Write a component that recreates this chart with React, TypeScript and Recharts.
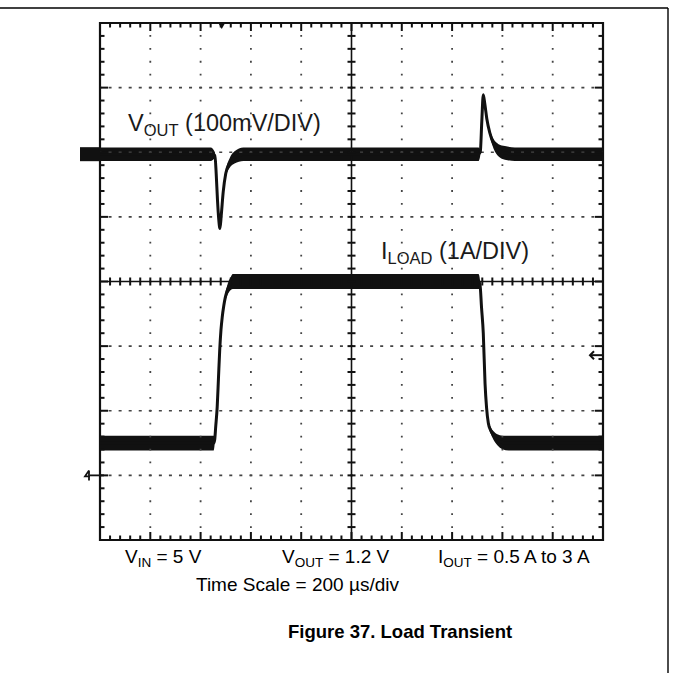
import { ComposedChart, Area, Line, Scatter, XAxis, YAxis, ReferenceLine, ReferenceArea } from "recharts";

// Oscilloscope: 200 µs/div, 10 x 8 divisions
const T_DIV = 200;
const N_X = 10;
const N_Y = 8;

// V_OUT, 100 mV/div, trace reference about 2 div above centre
const VOUT_REF = 1.97;
const voutTime = [0, 440, 457, 462, 467, 472, 477, 482, 490, 500, 515, 535, 570, 1505, 1512, 1518, 1524, 1530, 1538, 1550, 1565, 1585, 1610, 1650, 2000];
const voutMv = [0, 0, -2, -30, -70, -100, -115, -95, -58, -30, -14, -5, 0, 0, 3, 50, 92, 78, 55, 33, 16, 6, 2, 0, 0];
const voutNoise = [10.5, 10.5, 5, 1.5, 1.5, 1.5, 1.5, 1.5, 3, 5, 7.5, 9.5, 10.5, 10.5, 5, 1.5, 1.5, 2.5, 4, 5, 7.5, 9.5, 10.5, 10.5, 10.5];

// I_LOAD, 1 A/div, 0 A three div below centre
const ILOAD_ZERO = -3;
const iloadTime = [0, 452, 456, 460, 466, 471, 476, 481, 486, 492, 498, 505, 512, 520, 528, 545, 1505, 1511, 1517, 1524, 1531, 1537, 1544, 1553, 1564, 1580, 1600, 1625, 2000];
const iloadAmp = [0.5, 0.5, 0.55, 0.75, 1.06, 1.5, 1.94, 2.25, 2.45, 2.62, 2.75, 2.85, 2.92, 2.97, 3.0, 3.0, 3.0, 2.95, 2.6, 2.2, 1.42, 1.05, 0.81, 0.7, 0.62, 0.55, 0.51, 0.5, 0.5];
const iloadNoise = [0.115, 0.115, 0.06, 0.02, 0.02, 0.02, 0.02, 0.02, 0.03, 0.045, 0.06, 0.075, 0.09, 0.1, 0.115, 0.115, 0.115, 0.07, 0.02, 0.02, 0.02, 0.02, 0.035, 0.05, 0.065, 0.085, 0.105, 0.115, 0.115];

const TRIGGER_TIME = 484;
const TRIGGER_LEVEL = 1.86; // A

const FONT = "'Liberation Sans', Arial, sans-serif";
const INK = "#111";

const voutData = voutTime.map((t, i) => ({
  t,
  v: VOUT_REF + voutMv[i] / 100,
  band: [VOUT_REF + (voutMv[i] - voutNoise[i]) / 100, VOUT_REF + (voutMv[i] + voutNoise[i]) / 100],
}));
const iloadData = iloadTime.map((t, i) => ({
  t,
  v: ILOAD_ZERO + iloadAmp[i],
  band: [ILOAD_ZERO + iloadAmp[i] - iloadNoise[i], ILOAD_ZERO + iloadAmp[i] + iloadNoise[i]],
}));

// graticule points
const minorX = Array.from({ length: N_X * 5 + 1 }, (_, i) => ({ i, t: (i * T_DIV) / 5 }));
const minorY = Array.from({ length: N_Y * 5 + 1 }, (_, i) => ({ i, y: -N_Y / 2 + i / 5 }));
const topTicks = minorX.map((m) => ({ t: m.t, y: N_Y / 2, major: m.i % 5 === 0 }));
const bottomTicks = minorX.map((m) => ({ t: m.t, y: -N_Y / 2, major: m.i % 5 === 0 }));
const hAxisTicks = minorX.map((m) => ({ t: m.t, y: 0 }));
const leftTicks = minorY.map((m) => ({ t: 0, y: m.y, major: m.i % 5 === 0 }));
const rightTicks = minorY.map((m) => ({ t: N_X * T_DIV, y: m.y, major: m.i % 5 === 0 }));
const vAxisTicks = minorY.map((m) => ({ t: (N_X / 2) * T_DIV, y: m.y }));
const gridX = Array.from({ length: N_X - 1 }, (_, i) => (i + 1) * T_DIV).filter((t) => t !== (N_X / 2) * T_DIV);
const gridY = [-3, -2, -1, 1, 2, 3];

const tickShape = (dir: "down" | "up" | "right" | "left" | "crossV" | "crossH") => (p: any) => {
  const len = p.payload?.major ? 8 : 4.5;
  const { cx, cy } = p;
  let d = { x1: cx, y1: cy, x2: cx, y2: cy };
  if (dir === "down") d = { x1: cx, y1: cy, x2: cx, y2: cy + len };
  if (dir === "up") d = { x1: cx, y1: cy, x2: cx, y2: cy - len };
  if (dir === "right") d = { x1: cx, y1: cy, x2: cx + len, y2: cy };
  if (dir === "left") d = { x1: cx, y1: cy, x2: cx - len, y2: cy };
  if (dir === "crossV") d = { x1: cx, y1: cy - 4, x2: cx, y2: cy + 4 };
  if (dir === "crossH") d = { x1: cx - 4, y1: cy, x2: cx + 4, y2: cy };
  return <line {...d} stroke={INK} strokeWidth={2} />;
};

export default function App() {
  return (
    <div style={{ position: "absolute", left: 0, top: 0, width: 673, height: 673, background: "#fff", fontFamily: FONT }}>
      <ComposedChart width={673} height={560} margin={{ top: 23, right: 70, bottom: 20, left: 100 }}>
        <XAxis type="number" dataKey="t" domain={[0, N_X * T_DIV]} hide />
        <YAxis type="number" domain={[-N_Y / 2, N_Y / 2]} hide />

        {gridX.map((t) => (
          <ReferenceLine key={"gx" + t} x={t} stroke="#444" strokeWidth={1.8} strokeDasharray="1.8 11.125" strokeDashoffset={0.9} />
        ))}
        {gridY.map((y) => (
          <ReferenceLine key={"gy" + y} y={y} stroke="#444" strokeWidth={1.6} strokeDasharray="3 7.06" strokeDashoffset={1.5} />
        ))}
        <ReferenceLine x={(N_X / 2) * T_DIV} stroke={INK} strokeWidth={1.6} />
        <ReferenceLine y={0} stroke={INK} strokeWidth={1.6} />
        <ReferenceArea x1={0} x2={N_X * T_DIV} y1={-N_Y / 2} y2={N_Y / 2} fill="none" stroke={INK} strokeWidth={2.2} ifOverflow="visible" />

        <Scatter data={topTicks} dataKey="y" shape={tickShape("down")} isAnimationActive={false} />
        <Scatter data={bottomTicks} dataKey="y" shape={tickShape("up")} isAnimationActive={false} />
        <Scatter data={leftTicks} dataKey="y" shape={tickShape("right")} isAnimationActive={false} />
        <Scatter data={rightTicks} dataKey="y" shape={tickShape("left")} isAnimationActive={false} />
        <Scatter data={hAxisTicks} dataKey="y" shape={tickShape("crossV")} isAnimationActive={false} />
        <Scatter data={vAxisTicks} dataKey="y" shape={tickShape("crossH")} isAnimationActive={false} />

        {/* trigger position */}
        <Scatter
          data={[{ t: TRIGGER_TIME, y: N_Y / 2 }]}
          dataKey="y"
          isAnimationActive={false}
          shape={(p: any) => <path d={`M${p.cx - 4},${p.cy - 1} L${p.cx + 4},${p.cy - 1} L${p.cx},${p.cy + 6} Z`} fill={INK} />}
        />
        {/* trigger level */}
        <Scatter
          data={[{ t: N_X * T_DIV, y: ILOAD_ZERO + TRIGGER_LEVEL }]}
          dataKey="y"
          isAnimationActive={false}
          shape={(p: any) => (
            <g stroke={INK} strokeWidth={2} fill="none">
              <line x1={p.cx - 13} y1={p.cy} x2={p.cx} y2={p.cy} />
              <path d={`M${p.cx - 9},${p.cy - 4} L${p.cx - 13},${p.cy} L${p.cx - 9},${p.cy + 4}`} />
            </g>
          )}
        />
        {/* channel markers */}
        <Scatter
          data={[{ t: 0, y: VOUT_REF }]}
          dataKey="y"
          isAnimationActive={false}
          shape={(p: any) => <rect x={p.cx - 20} y={p.cy - 7} width={20} height={14} fill={INK} />}
        />
        <Scatter
          data={[{ t: 0, y: ILOAD_ZERO }]}
          dataKey="y"
          isAnimationActive={false}
          shape={(p: any) => (
            <g stroke={INK} strokeWidth={1.8} fill="none">
              <line x1={p.cx - 10} y1={p.cy} x2={p.cx + 4} y2={p.cy} />
              <path d={`M${p.cx - 11},${p.cy - 5} L${p.cx - 15},${p.cy + 1} L${p.cx - 10},${p.cy + 1} M${p.cx - 11},${p.cy - 5} L${p.cx - 11},${p.cy + 5}`} />
            </g>
          )}
        />

        <Area data={voutData} dataKey="band" type="monotone" stroke="none" fill={INK} fillOpacity={1} isAnimationActive={false} />
        <Line data={voutData} dataKey="v" type="monotone" stroke={INK} strokeWidth={3} dot={false} isAnimationActive={false} />
        <Area data={iloadData} dataKey="band" type="monotone" stroke="none" fill={INK} fillOpacity={1} isAnimationActive={false} />
        <Line data={iloadData} dataKey="v" type="monotone" stroke={INK} strokeWidth={3} dot={false} isAnimationActive={false} />
      </ComposedChart>

      <svg width={673} height={673} style={{ position: "absolute", left: 0, top: 0, pointerEvents: "none" }} fontFamily={FONT}>
        <line x1={0} y1={8} x2={668} y2={8} stroke="#000" strokeWidth={1.4} />
        <line x1={668} y1={8} x2={668} y2={673} stroke="#000" strokeWidth={1.4} />

        <text x={128} y={131} fontSize={23.5} fill="#1a1a1a">
          V<tspan fontSize={16.5} dy={5}>OUT</tspan>
          <tspan dy={-5}> (100mV/DIV)</tspan>
        </text>
        <text x={381} y={259} fontSize={23.5} fill="#1a1a1a">
          I<tspan fontSize={16.5} dy={5}>LOAD</tspan>
          <tspan dy={-5}> (1A/DIV)</tspan>
        </text>

        <text x={125} y={563} fontSize={19} fill="#000">
          V<tspan fontSize={13.5} dy={4}>IN</tspan>
          <tspan dy={-4}> = 5 V</tspan>
        </text>
        <text x={282} y={563} fontSize={19} fill="#000">
          V<tspan fontSize={13.5} dy={4}>OUT</tspan>
          <tspan dy={-4}> = 1.2 V</tspan>
        </text>
        <text x={438} y={563} fontSize={19} fill="#000">
          I<tspan fontSize={13.5} dy={4}>OUT</tspan>
          <tspan dy={-4}> = 0.5 A to 3 A</tspan>
        </text>
        <text x={196} y={591} fontSize={19} fill="#000">
          Time Scale = 200 µs/div
        </text>
        <text x={288} y={638} fontSize={18.5} fontWeight="bold" fill="#000">
          Figure 37. Load Transient
        </text>
      </svg>
    </div>
  );
}
